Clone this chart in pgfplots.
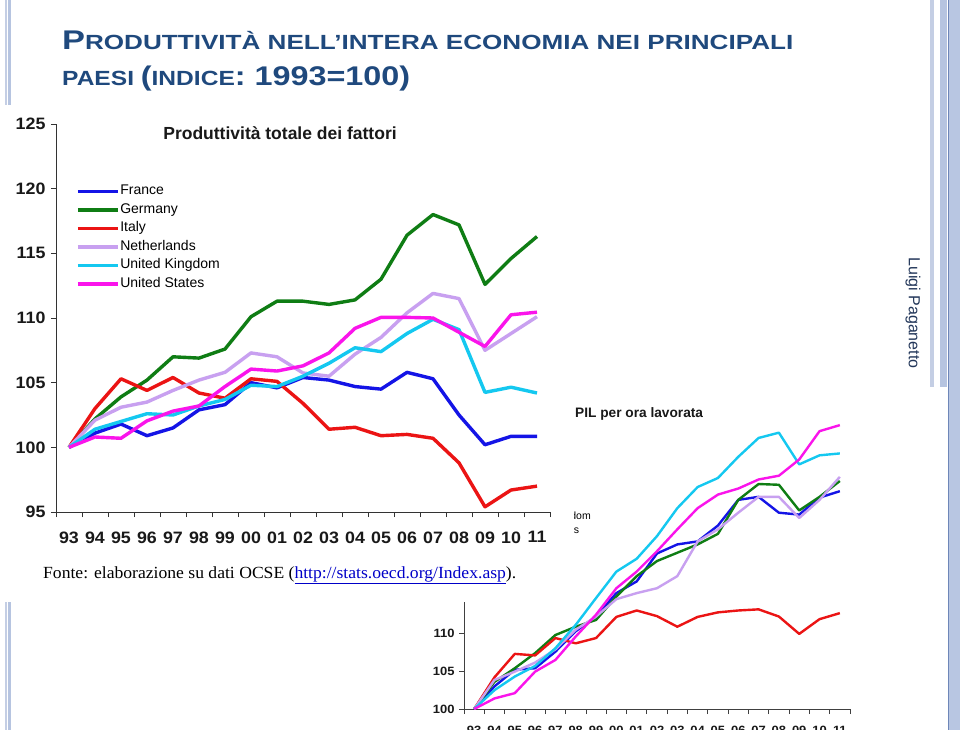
\documentclass[border=0pt]{standalone}
\usepackage{pgfplots}
\pgfplotsset{compat=1.18}
\usepackage{pgfplotstable}
\usepackage{fontspec}
\usepackage{graphicx}
\setmainfont{Liberation Sans}
\newfontfamily\seriffont{Liberation Serif}
\newfontfamily\chartfont[FakeStretch=1.08]{Liberation Sans}

\definecolor{cfr}{RGB}{20,20,230}
\definecolor{cde}{RGB}{15,125,20}
\definecolor{cit}{RGB}{235,20,20}
\definecolor{cnl}{RGB}{200,160,240}
\definecolor{cuk}{RGB}{20,200,240}
\definecolor{cus}{RGB}{250,20,235}
\definecolor{titleblue}{RGB}{31,73,125}
\definecolor{lpblue}{RGB}{35,55,90}
\definecolor{barA}{RGB}{196,206,228}
\definecolor{barB}{RGB}{182,196,224}
\definecolor{barC}{RGB}{184,198,226}
\definecolor{barline}{RGB}{110,134,184}
\definecolor{linkblue}{RGB}{0,0,200}

\pgfplotstableread{
idx fr de it nl uk us
0 100 100 100 100 100 100
1 101.1 102.2 103.0 102.1 101.4 100.8
2 101.8 103.9 105.3 103.1 102.0 100.7
3 100.9 105.2 104.4 103.5 102.6 102.05
4 101.5 107.0 105.4 104.4 102.5 102.8
5 102.9 106.9 104.2 105.2 103.2 103.2
6 103.3 107.6 103.8 105.8 103.7 104.7
7 105.0 110.1 105.3 107.3 104.8 106.05
8 104.6 111.3 105.1 107.0 104.7 105.9
9 105.4 111.3 103.4 105.75 105.5 106.3
10 105.2 111.05 101.4 105.5 106.5 107.3
11 104.7 111.4 101.55 107.2 107.7 109.2
12 104.5 113.0 100.9 108.5 107.4 110.05
13 105.8 116.4 101.0 110.4 108.8 110.05
14 105.3 118.0 100.7 111.9 109.9 110.0
15 102.5 117.2 98.8 111.5 109.1 108.9
16 100.2 112.6 95.4 107.5 104.25 107.8
17 100.85 114.6 96.7 108.8 104.65 110.25
18 100.85 116.3 97.0 110.1 104.2 110.45
}\tfp

\pgfplotstableread{
idx fr de it nl uk us
0 100 100 100 100 100 100
1 103.0 103.6 104.2 103.85 102.5 101.4
2 105.2 105.4 107.3 104.95 104.3 102.1
3 105.4 107.4 107.1 106.15 105.7 104.95
4 107.6 109.8 109.4 107.9 108.05 106.5
5 110.3 110.9 108.7 110.5 111.15 109.6
6 112.25 111.8 109.4 112.25 114.7 112.5
7 115.35 114.9 112.2 114.55 118.2 116.0
8 116.9 117.6 113.05 115.35 119.9 118.2
9 120.6 119.6 112.3 116.0 122.9 120.9
10 121.8 120.7 110.9 117.6 126.6 123.8
11 122.2 121.8 112.2 122.2 129.4 126.6
12 124.3 123.2 112.8 123.8 130.6 128.4
13 127.7 127.7 113.05 126.0 133.4 129.2
14 128.1 129.8 113.2 128.1 135.9 130.4
15 126.0 129.7 112.25 128.1 136.6 130.9
16 125.75 126.3 109.95 125.3 132.4 133.05
17 128.0 128.1 111.9 127.7 133.6 136.8
18 128.85 130.2 112.7 130.75 133.85 137.6
}\pil

\newcommand\TB[1]{{\fontsize{27}{27}\selectfont #1}}
\newcommand\TS[1]{{\fontsize{20.5}{20.5}\selectfont #1}}

\begin{document}
\begin{tikzpicture}
\path[use as bounding box, fill=white] (0pt,0pt) rectangle (960pt,-730pt);

% slide decorations
\fill[barA] (5pt,0pt) rectangle (7pt,-730pt);
\fill[barB] (8pt,0pt) rectangle (11pt,-730pt);
\fill[barA] (930pt,0pt) rectangle (934pt,-387pt);
\fill[barB] (940pt,0pt) rectangle (947pt,-387pt);
\fill[barC] (948pt,0pt) rectangle (960pt,-730pt);
\draw[barline, line width=0.8pt] (948.4pt,0pt) -- (948.4pt,-730pt);

% second chart (behind)
\begin{axis}[
  scale only axis, width=386pt, height=302pt,
  at={(464pt,-709pt)}, anchor=south west,
  xmin=-0.5, xmax=18.5, ymin=100, ymax=140,
  axis x line*=bottom, axis y line*=left,
  axis line style={line width=0.8pt, black!75},
  ytick={100,105,...,140},
  xtick={-0.5,0.5,...,18.5}, x tick label as interval,
  xticklabels={93,94,95,96,97,98,99,00,01,02,03,04,05,06,07,08,09,10,11},
  tick align=outside, major tick length=5pt,
  tick style={line width=0.8pt, black!75},
  ticklabel style={font=\chartfont\bfseries\fontsize{12}{12}\selectfont, text=black!90},
  /pgf/number format/assume math mode=true,
  yticklabel style={xshift=-1pt},
  xticklabel style={yshift=-9pt},
  legend image code/.code={\draw[#1, line width=2.5pt] (0pt,0pt) -- (30pt,0pt);},
  legend cell align=left,
  legend style={draw=none, fill=none, at={(0.0455,0.841)}, anchor=north west,
    inner sep=0pt, outer sep=0pt, row sep=3.5pt, column sep=2pt,
    font=\fontsize{10.5}{10.5}\selectfont,
    nodes={inner sep=0pt, text height=8pt, text depth=2.5pt}},
  every axis plot/.append style={line width=2.4pt, line join=round},
]
\addplot[cfr] table[x=idx, y=fr] {\pil};
\addplot[cde] table[x=idx, y=de] {\pil};
\addplot[cit] table[x=idx, y=it] {\pil};
\addplot[cnl] table[x=idx, y=nl] {\pil};
\addplot[cuk] table[x=idx, y=uk] {\pil};
\addplot[cus] table[x=idx, y=us] {\pil};
\legend{France,Germany,Italy,Netherlands,United Kingdom,United States}
\end{axis}
\node[anchor=base west, inner sep=0pt, font=\fontsize{13.7}{13.7}\selectfont\bfseries, text=black!90] at (575pt,-417pt) {PIL per ora lavorata};

% pasted first picture
\fill[white] (0pt,-105pt) rectangle (573.5pt,-601.5pt);

\begin{axis}[
  scale only axis, width=494pt, height=388pt,
  at={(56pt,-512pt)}, anchor=south west,
  xmin=-0.5, xmax=18.5, ymin=95, ymax=125,
  axis x line*=bottom, axis y line*=left,
  axis line style={line width=1pt, black!80},
  ytick={95,100,...,125},
  xtick={-0.5,0.5,...,18.5}, x tick label as interval,
  xticklabels={93,94,95,96,97,98,99,00,01,02,03,04,05,06,07,08,09,10,11},
  tick align=outside, major tick length=5pt,
  tick style={line width=1pt, black!80},
  ticklabel style={font=\chartfont\bfseries\fontsize{16.5}{16.5}\selectfont, text=black!90},
  /pgf/number format/assume math mode=true,
  yticklabel style={xshift=-2pt},
  xticklabel style={yshift=-11pt},
  legend image code/.code={\draw[#1, line width=3.8pt] (0pt,0pt) -- (40pt,0pt);},
  legend cell align=left,
  legend style={draw=none, fill=none, at={(0.0405,0.8428)}, anchor=north west,
    inner sep=0pt, outer sep=0pt, row sep=5.5pt, column sep=0.5pt,
    font=\fontsize{14}{14}\selectfont,
    nodes={inner sep=0pt, text height=10pt, text depth=3pt}},
  every axis plot/.append style={line width=3.4pt, line join=round},
]
\addplot[cfr] table[x=idx, y=fr] {\tfp};
\addplot[cde] table[x=idx, y=de] {\tfp};
\addplot[cit] table[x=idx, y=it] {\tfp};
\addplot[cnl] table[x=idx, y=nl] {\tfp};
\addplot[cuk] table[x=idx, y=uk] {\tfp};
\addplot[cus] table[x=idx, y=us] {\tfp};
\legend{France,Germany,Italy,Netherlands,United Kingdom,United States}
\end{axis}
\node[inner sep=0pt, font=\fontsize{17.5}{17.5}\selectfont\bfseries, text=black!90] at (280pt,-133pt) {Produttività totale dei fattori};

% source line
\node[anchor=base west, inner sep=0pt, font=\seriffont\fontsize{17}{17}\selectfont] at (43pt,-578pt)
  {\resizebox{473pt}{\height}{Fonte: elaborazione su dati OCSE (\textcolor{linkblue}{\underline{http://stats.oecd.org/Index.asp}}).}};

% slide title
\node[anchor=base west, inner sep=0pt, font=\bfseries, text=titleblue] at (62pt,-49.3pt)
  {\resizebox{731pt}{\height}{\TB{P}\TS{RODUTTIVITÀ NELL’INTERA ECONOMIA NEI PRINCIPALI}}};
\node[anchor=base west, inner sep=0pt, font=\bfseries, text=titleblue] at (62pt,-86pt)
  {\resizebox{348pt}{\height}{\TS{PAESI }\TB{(}\TS{INDICE}\TB{: 1993=100)}}};

% footer
\node[rotate=-90, inner sep=0pt, font=\fontsize{16}{16}\selectfont, text=lpblue] at (913pt,-313pt) {Luigi Paganetto};
\end{tikzpicture}
\end{document}
